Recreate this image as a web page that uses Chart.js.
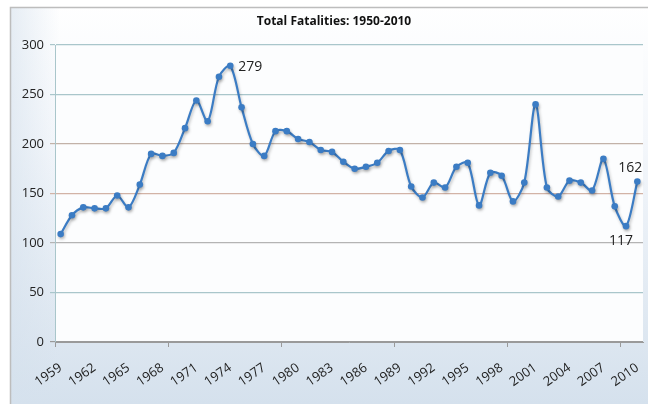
<!DOCTYPE html>
<html>
<head>
<meta charset="utf-8">
<script src="https://cdn.jsdelivr.net/npm/chart.js@4/dist/chart.umd.min.js"></script>
<style>
  html, body { margin: 0; padding: 0; background: #fff; }
  #wrap { width: 648px; height: 404px; }
</style>
</head>
<body>
<div id="wrap"><canvas id="mychart" width="648" height="404"></canvas></div>
<script>
const years = [
  1959, 1960, 1961, 1962, 1963, 1964, 1965, 1966, 1967, 1968,
  1969, 1970, 1971, 1972, 1973, 1974, 1975, 1976, 1977, 1978,
  1979, 1980, 1981, 1982, 1983, 1984, 1985, 1986, 1987, 1988,
  1989, 1990, 1991, 1992, 1993, 1994, 1995, 1996, 1997, 1998,
  1999, 2000, 2001, 2002, 2003, 2004, 2005, 2006, 2007, 2008,
  2009, 2010
];
const fatalities = [
  109, 128, 136, 135, 135, 148, 136, 159, 190, 188,
  191, 216, 244, 223, 268, 279, 237, 200, 188, 213,
  213, 205, 202, 194, 192, 182, 175, 177, 181, 193,
  194, 157, 146, 161, 156, 177, 181, 138, 171, 168,
  142, 161, 240, 156, 147, 163, 161, 153, 185, 137,
  117, 162
];
const yTicks = [0, 50, 100, 150, 200, 250, 300];
const gridColors = ['#9a9a9a', '#a9c6cb', '#b4b4b4', '#d2b3a6', '#c2b2a8', '#a9c6cb', '#a9c6cb'];
const chartTitle = 'Total Fatalities: 1950-2010';
// points with a value written next to them: [index, position]
const callouts = [[15, 'right'], [51, 'above'], [50, 'below']];

const fontFamily = "'Open Sans', 'Noto Sans', sans-serif";

// fondo del gráfico, marco y área de trazado
const backgroundPlugin = {
  id: 'background',
  beforeDraw(chart) {
    const { ctx, chartArea: a } = chart;
    ctx.save();
    const g = ctx.createLinearGradient(0, 0, 0, chart.height);
    g.addColorStop(0, '#ffffff');
    g.addColorStop(0.35, '#f4f7fb');
    g.addColorStop(1, '#d5e1ed');
    ctx.fillStyle = g;
    ctx.fillRect(10, 7, chart.width - 10, chart.height - 7);
    const h = ctx.createLinearGradient(10, 0, 60, 0);
    h.addColorStop(0, 'rgba(213,225,237,0.6)');
    h.addColorStop(1, 'rgba(213,225,237,0)');
    ctx.fillStyle = h;
    ctx.fillRect(10, 7, 50, chart.height - 7);
    ctx.strokeStyle = '#bdbdbd';
    ctx.lineWidth = 1.5;
    ctx.beginPath();
    ctx.moveTo(10.5, chart.height);
    ctx.lineTo(10.5, 7.5);
    ctx.lineTo(chart.width, 7.5);
    ctx.stroke();
    ctx.fillStyle = '#fcfdfe';
    ctx.fillRect(a.left, a.top, a.right - a.left, a.bottom - a.top);
    ctx.fillStyle = '#111';
    ctx.font = "bold 12px " + fontFamily;
    ctx.textAlign = 'center';
    ctx.textBaseline = 'middle';
    ctx.fillText(chartTitle, 334, 22);
    ctx.restore();
  }
};

const shadowPlugin = {
  id: 'lineShadow',
  beforeDatasetDraw(chart) {
    const ctx = chart.ctx;
    ctx.save();
    ctx.shadowColor = 'rgba(0,0,0,0.25)';
    ctx.shadowBlur = 3;
    ctx.shadowOffsetX = 1;
    ctx.shadowOffsetY = 2;
  },
  afterDatasetDraw(chart) {
    chart.ctx.restore();
  }
};

const calloutPlugin = {
  id: 'callouts',
  afterDatasetsDraw(chart) {
    const { ctx } = chart;
    const pts = chart.getDatasetMeta(0).data;
    ctx.save();
    ctx.fillStyle = '#222';
    ctx.font = "14px " + fontFamily;
    callouts.forEach(([i, pos]) => {
      const p = pts[i];
      const txt = String(fatalities[i]);
      if (pos === 'right') {
        ctx.textAlign = 'left';
        ctx.textBaseline = 'middle';
        ctx.fillText(txt, p.x + 8, p.y + 1);
      } else if (pos === 'above') {
        ctx.textAlign = 'center';
        ctx.textBaseline = 'bottom';
        ctx.fillText(txt, p.x - 7, p.y - 7);
      } else {
        ctx.textAlign = 'center';
        ctx.textBaseline = 'top';
        ctx.fillText(txt, p.x - 5, p.y + 8);
      }
    });
    ctx.restore();
  }
};

const canvas = document.querySelector('#mychart');
new Chart(canvas, {
  type: 'line',
  data: {
    labels: years.map(String),
    datasets: [
      {
        label: 'Total Fatalities',
        data: fatalities,
        borderColor: '#3b7cc4',
        backgroundColor: '#3b7cc4',
        borderWidth: 2.2,
        pointRadius: 3.3,
        pointHoverRadius: 3.3,
        pointBorderWidth: 0,
        tension: 0.3,
        fill: false
      }
    ]
  },
  options: {
    responsive: false,
    animation: false,
    layout: { padding: { left: 10, top: 45, right: 5, bottom: 0 } },
    plugins: {
      legend: { display: false },
      title: { display: false },
      tooltip: { enabled: false }
    },
    scales: {
      x: {
        offset: true,
        afterFit(scale) {
          scale.height = 62;
          scale.paddingLeft = 0;
          scale.paddingRight = 0;
        },
        grid: {
          offset: true,
          drawOnChartArea: false,
          drawTicks: true,
          tickLength: 5,
          color: (c) => (c.index % 10 === 0 ? '#9a9a9a' : 'rgba(0,0,0,0)')
        },
        border: { display: true, color: '#9a9a9a', width: 1 },
        ticks: {
          autoSkip: false,
          minRotation: 35,
          maxRotation: 35,
          padding: 13,
          color: '#222',
          font: { family: fontFamily, size: 13 },
          callback: (v, i) => (i % 3 === 0 ? years[i] : '')
        }
      },
      y: {
        min: 0,
        max: 300,
        afterFit(scale) { scale.width = 45; },
        afterBuildTicks(scale) { scale.ticks = yTicks.map((v) => ({ value: v })); },
        grid: {
          color: (c) => gridColors[c.index] || '#b4b4b4',
          lineWidth: 1.2,
          tickLength: 5
        },
        border: { display: true, color: '#a9c6cb', width: 1 },
        ticks: {
          padding: 6,
          color: '#222',
          font: { family: fontFamily, size: 13 }
        }
      }
    }
  },
  plugins: [backgroundPlugin, shadowPlugin, calloutPlugin]
});
</script>
</body>
</html>
